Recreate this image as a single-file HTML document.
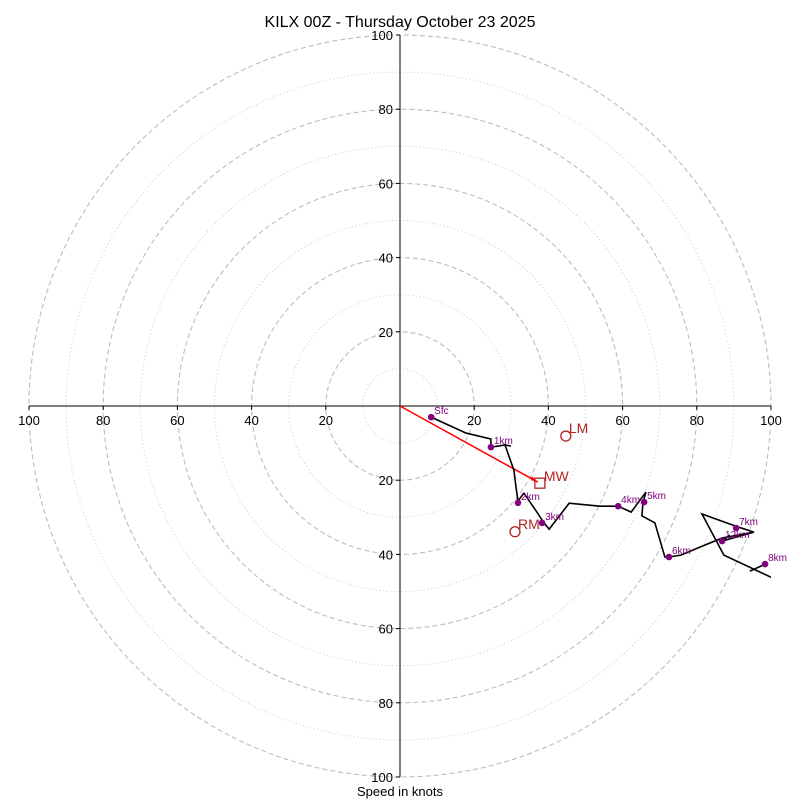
<!DOCTYPE html>
<html><head><meta charset="utf-8"><style>
body{margin:0;background:#fff}
svg{display:block;font-family:"Liberation Sans","DejaVu Sans",sans-serif}
</style></head><body>
<svg id="c" width="800" height="800" viewBox="0 0 800 800">
<text x="400" y="27" text-anchor="middle" font-size="16">KILX 00Z - Thursday October 23 2025</text>
<text x="400" y="796" text-anchor="middle" font-size="13">Speed in knots</text>
<defs><clipPath id="clip"><rect x="29" y="35" width="742" height="742"/></clipPath></defs>
<g id="grid"></g><g id="axes"></g><g id="marks" clip-path="url(#clip)"></g><g id="labels"></g>
</svg>
<script>
const ringValues=[10,20,30,40,50,60,70,80,90,100];
const tickValues=[20,40,60,80,100];
// wind profile u,v in knots
const profileU=[8.4,17.8,24.5,24.5,28.3,29.9,28.3,30.7,31.3,31.8,33.4,36.9,38.8,40.2,45.6,53.9,58.8,62.3,66.3,65.5,65.2,68.7,71.4,72.5,75.7,80.9,86.8,95.4,91.1,81.4,87.3,102.0];
const profileV=[-3.0,-7.3,-8.9,-11.1,-10.5,-10.8,-10.5,-17.3,-22.1,-25.6,-23.5,-28.6,-31.5,-33.2,-26.2,-27.0,-27.0,-28.6,-23.2,-25.9,-29.6,-31.5,-40.7,-40.7,-40.2,-38.0,-35.6,-34.0,-32.6,-29.1,-40.2,-47.1];
const profile2U=[94.3,99.1];
const profile2V=[-44.5,-42.3];
const profile3U=[88.9,86.8,95.4];
const profile3V=[-34.8,-36.4,-34.0];
const markerNames=["Sfc","1km","2km","3km","4km","5km","6km","7km","8km","12km"];
const markerU=[8.4,24.5,31.8,38.3,58.8,65.8,72.5,90.6,98.4,86.8];
const markerV=[-3.0,-11.1,-26.1,-31.5,-27.0,-25.9,-40.7,-32.9,-42.6,-36.4];
const mwU=[37.7],mwV=[-20.8];
const lmU=[44.7],lmV=[-8.1];
const rmU=[31.0],rmV=[-33.9];

const CX=400,CY=406,S=3.71;
const X=u=>CX+u*S, Y=v=>CY-v*S;
const NS="http://www.w3.org/2000/svg";
function mk(tag,attrs,parent){const e=document.createElementNS(NS,tag);for(const k in attrs)e.setAttribute(k,attrs[k]);parent.appendChild(e);return e;}
const grid=document.getElementById('grid'),axes=document.getElementById('axes'),marks=document.getElementById('marks'),labels=document.getElementById('labels');

ringValues.forEach(r=>{
  const major=r%20===0;
  const c=mk('circle',{cx:CX,cy:CY,r:r*S,fill:'none',stroke:major?'#bdbdbd':'#d0d0d0','stroke-width':major?1.1:1,'stroke-dasharray':major?'5,3':'1.2,2.5'},grid);
  
  
});
let a=mk('line',{x1:X(-100),y1:CY,x2:X(100),y2:CY,stroke:'#000','stroke-width':1},axes);

a=mk('line',{x1:CX,y1:Y(100),x2:CX,y2:Y(-100),stroke:'#000','stroke-width':1},axes);

tickValues.forEach(t=>{
  [t,-t].forEach(s=>{
    mk('line',{x1:X(s),y1:CY,x2:X(s),y2:CY+4,stroke:'#000'},axes);
    let tx=mk('text',{x:X(s),y:CY+19,'text-anchor':'middle','font-size':13},labels);
    tx.textContent=t;
    
    mk('line',{x1:CX-4,y1:Y(s),x2:CX,y2:Y(s),stroke:'#000'},axes);
    tx=mk('text',{x:CX-7,y:Y(s)+5,'text-anchor':'end','font-size':13},labels);
    tx.textContent=t;
    
  });
});
// mean wind line
let ml=mk('line',{x1:X(0),y1:Y(0),x2:X(mwU[0])-2,y2:Y(mwV[0])-1,stroke:'#ff0000','stroke-width':1.5},marks);

mk('path',{d:`M${X(mwU[0])-2},${Y(mwV[0])-1} l-6,-6 l-1,4 z`,fill:'#ff0000'},marks);
// profile
function trace(us,vs,name){
  const p=mk('polyline',{points:us.map((u,i)=>X(u)+','+Y(vs[i])).join(' '),fill:'none',stroke:'#000','stroke-width':1.6,'stroke-linejoin':'miter'},marks);
  
}
trace(profileU,profileV,'hodograph-trace');
trace(profile2U,profile2V,'hodograph-trace-segment');
trace(profile3U,profile3V,'hodograph-trace-segment');
markerNames.forEach((n,i)=>{
  const c=mk('circle',{cx:X(markerU[i]),cy:Y(markerV[i]),r:3.3,fill:'#800080'},marks);
  
  const t=mk('text',{x:X(markerU[i])+3,y:Y(markerV[i])-3,'font-size':10,fill:'#800080'},labels);
  t.textContent=n;
  
});
// storm motion markers
const sq=mk('rect',{x:X(mwU[0])-5,y:Y(mwV[0])-5,width:10,height:10,fill:'none',stroke:'#b22222','stroke-width':1.3},labels);

let t=mk('text',{x:X(mwU[0])+4,y:Y(mwV[0])-2,'font-size':14,fill:'#b22222'},labels);t.textContent='MW';

const lm=mk('circle',{cx:X(lmU[0]),cy:Y(lmV[0]),r:5,fill:'none',stroke:'#b22222','stroke-width':1.3},labels);

t=mk('text',{x:X(lmU[0])+3,y:Y(lmV[0])-3,'font-size':14,fill:'#b22222'},labels);t.textContent='LM';

const rm=mk('circle',{cx:X(rmU[0]),cy:Y(rmV[0]),r:5,fill:'none',stroke:'#b22222','stroke-width':1.3},labels);

t=mk('text',{x:X(rmU[0])+3,y:Y(rmV[0])-3,'font-size':14,fill:'#b22222'},labels);t.textContent='RM';

</script>
</body></html>
